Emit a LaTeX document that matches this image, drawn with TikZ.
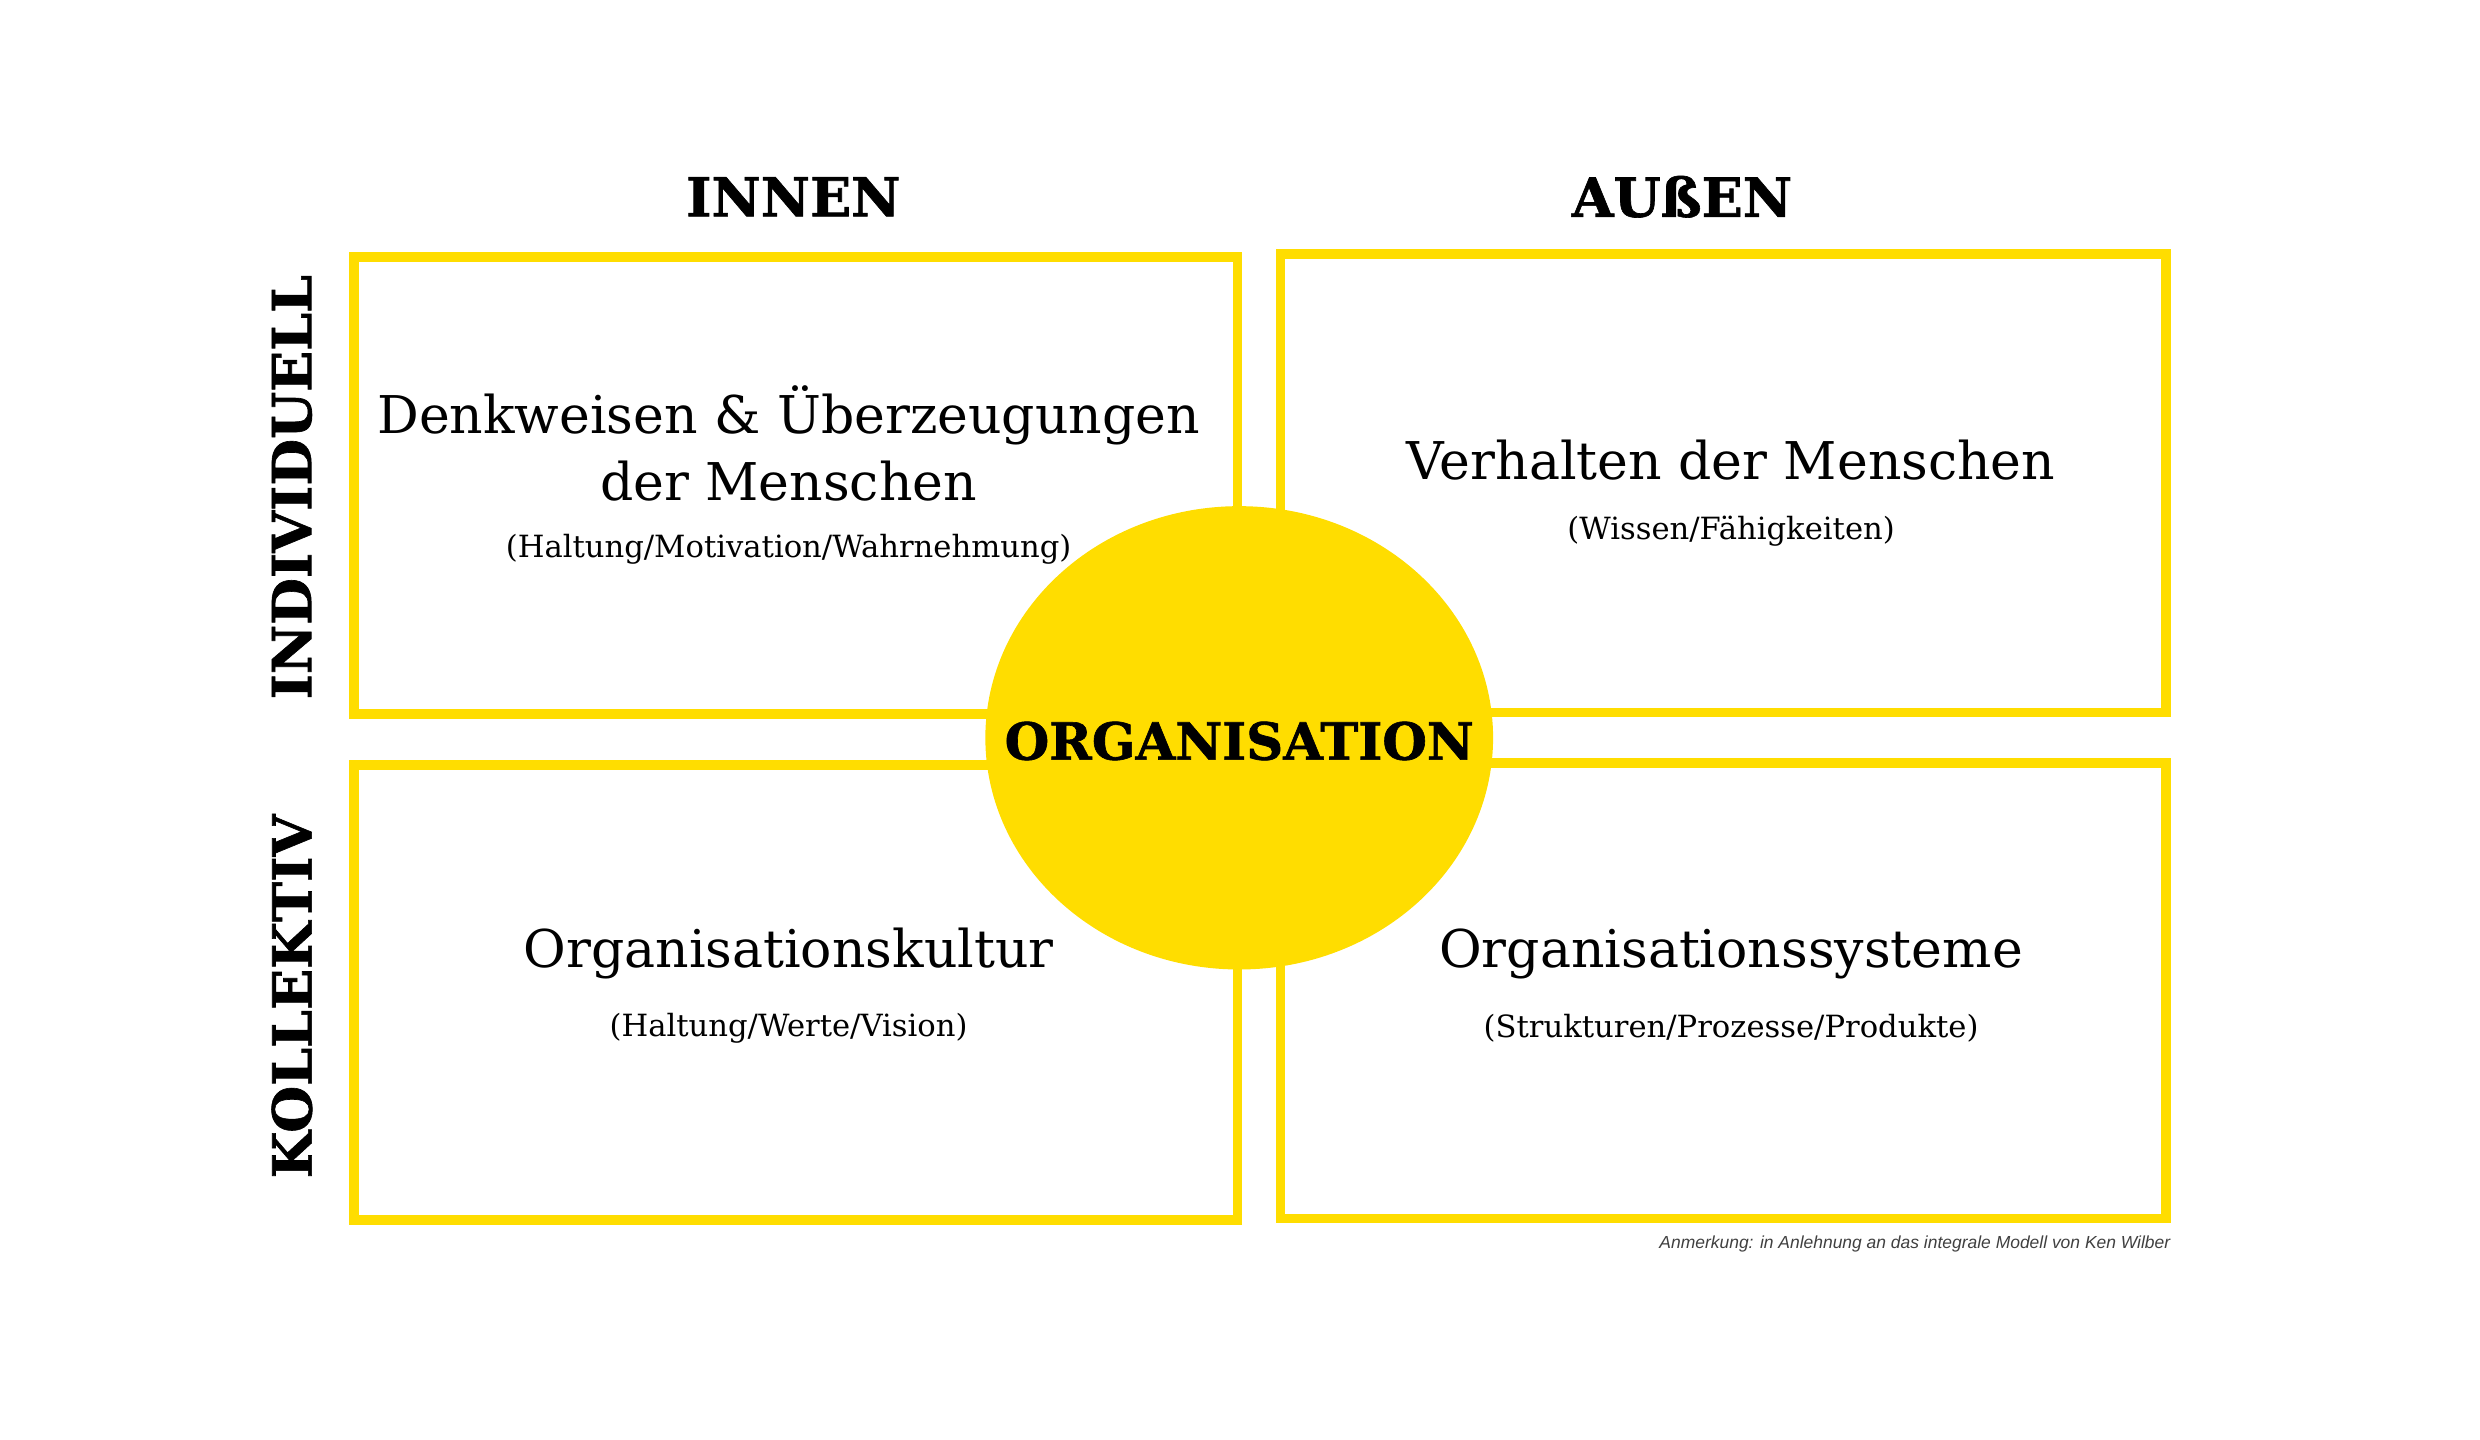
\documentclass[tikz,border=0pt]{standalone}
\usepackage{fontspec}
\usetikzlibrary{shapes.geometric}
\setmainfont{DejaVu Serif}
\newfontfamily\notefont{Liberation Sans}
\newfontfamily\headfont[FakeBold=1.2]{DejaVu Serif Bold}
\definecolor{qyellow}{HTML}{FFDD00}
\tikzset{
  quadbox/.style={draw=qyellow, line width=6pt},
  headtxt/.style={font=\headfont\fontsize{34}{38}\selectfont, inner sep=0pt},
  maintxt/.style={font=\fontsize{32.8}{38}\selectfont, inner sep=0pt},
  subtxt/.style={font=\fontsize{19.3}{23}\selectfont, inner sep=0pt},
  centertxt/.style={font=\headfont\fontsize{32.3}{36}\selectfont, inner sep=0pt},
  notetxt/.style={font=\notefont\itshape\fontsize{11}{13}\selectfont, text=black!75, inner sep=0pt}
}
\begin{document}
\begin{tikzpicture}[x=1pt,y=-1pt]
\useasboundingbox (0,0) rectangle (1563,907.5);
% quadrants
\draw[quadbox] (223,162) rectangle (780,450);
\draw[quadbox] (807,160) rectangle (1365,449);
\draw[quadbox] (223,482) rectangle (780,769);
\draw[quadbox] (807,481) rectangle (1365,768);
% centre circle
\node[ellipse, fill=qyellow, minimum width=320pt, minimum height=292pt, inner sep=0pt] (org) at (781,465) {};
\node[centertxt] (orgtxt) at (781,467) {ORGANISATION};
% headings
\node[headtxt] (innen) at (500,124) {INNEN};
\node[headtxt] (aussen) at (1060,124) {AUßEN};
\node[headtxt, rotate=90] (indiv) at (184,307) {INDIVIDUELL};
\node[headtxt, rotate=90] (koll) at (184,628) {KOLLEKTIV};
% top-left
\node[maintxt] (tla) at (497,262) {Denkweisen \& Überzeugungen};
\node[maintxt] (tlb) at (497,303) {der Menschen};
\node[subtxt] (tlc) at (497,346) {(Haltung/Motivation/Wahrnehmung)};
% top-right
\node[maintxt] (tra) at (1091,290) {Verhalten der Menschen};
\node[subtxt] (trb) at (1091,335) {(Wissen/Fähigkeiten)};
% bottom-left
\node[maintxt] (bla) at (497,601) {Organisationskultur};
\node[subtxt] (blb) at (497,648) {(Haltung/Werte/Vision)};
% bottom-right
\node[maintxt] (bra) at (1091,601) {Organisationssysteme};
\node[subtxt] (brb) at (1091,648) {(Strukturen/Prozesse/Produkte)};
% note
\node[notetxt, anchor=east] (note) at (1368,784) {Anmerkung: in Anlehnung an das integrale Modell von Ken Wilber};
\end{tikzpicture}
\end{document}
